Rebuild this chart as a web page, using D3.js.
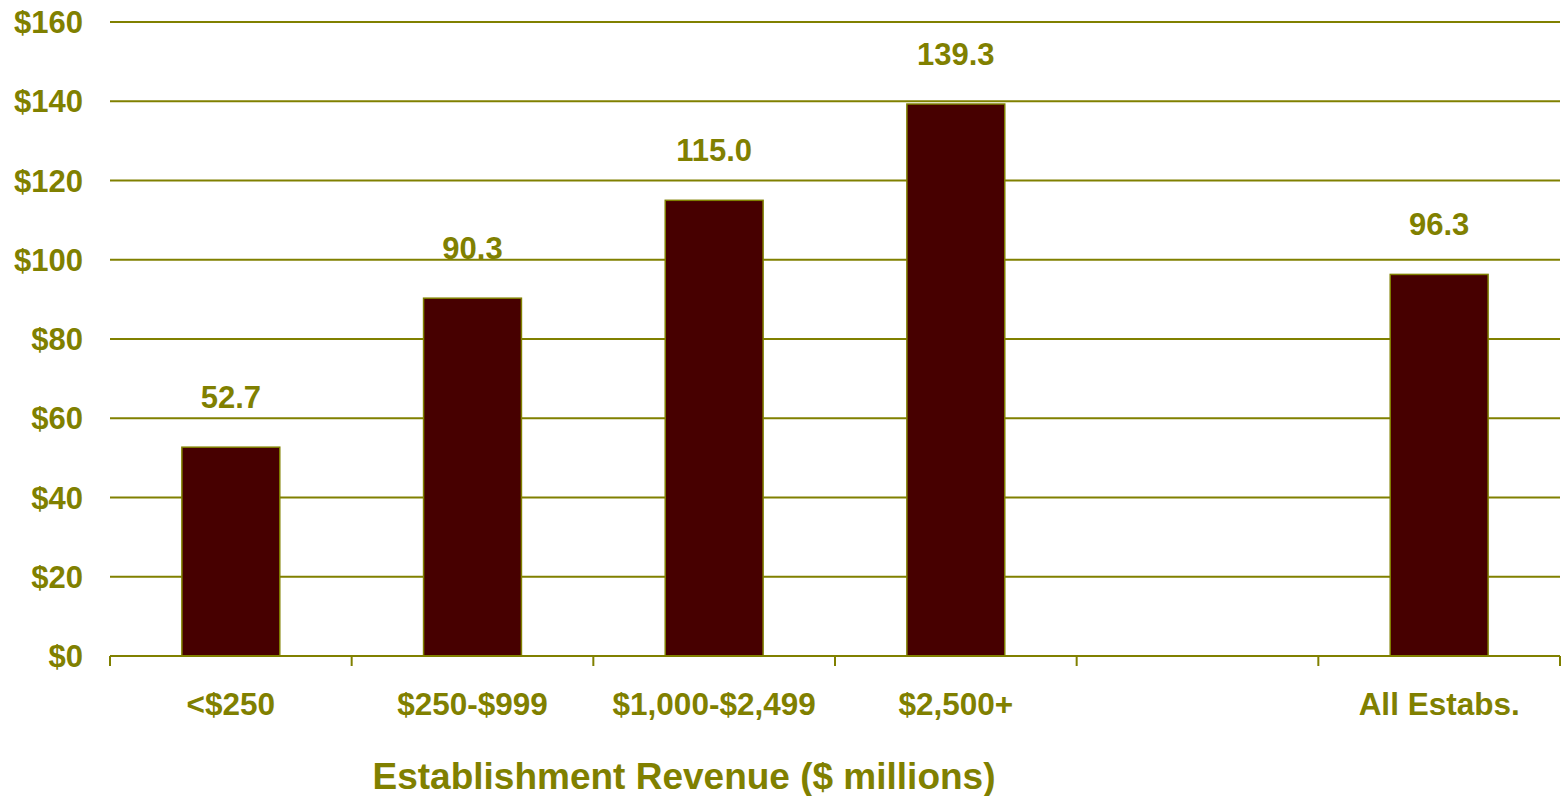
<!DOCTYPE html>
<html>
<head>
<meta charset="utf-8">
<script src="https://cdn.jsdelivr.net/npm/d3@7"></script>
<style>
  html, body { margin: 0; padding: 0; background: #fff; }
  svg { display: block; }
  text { font-family: "Liberation Sans", Arial, sans-serif; font-weight: bold; fill: #808000; }
</style>
</head>
<body>
<svg id="chart" width="1564" height="796"></svg>
<script>
const categories = ["<$250", "$250-$999", "$1,000-$2,499", "$2,500+", "", "All Estabs."];
const values = [52.7, 90.3, 115.0, 139.3, null, 96.3];
const valueLabels = ["52.7", "90.3", "115.0", "139.3", "", "96.3"];
const yTicks = [0, 20, 40, 60, 80, 100, 120, 140, 160];
const axisTitle = "Establishment Revenue ($ millions)";

const olive = "#808000";
const barFill = "#470000";

const svg = d3.select("#chart");
const plotLeft = 110, plotRight = 1560, plotTop = 22, plotBottom = 656;

const slots = categories.map((c, i) => "slot" + i);
const x = d3.scaleBand().domain(slots).range([plotLeft, plotRight]).padding(0);
const y = d3.scaleLinear().domain([0, 160]).range([plotBottom, plotTop]);
const barFrac = 0.405;

// gridlines
svg.append("g").selectAll("line").data(yTicks.filter(d => d > 0)).join("line")
  .attr("x1", plotLeft).attr("x2", plotRight)
  .attr("y1", d => y(d)).attr("y2", d => y(d))
  .attr("stroke", olive).attr("stroke-width", 2);

// y tick labels
svg.append("g").selectAll("text").data(yTicks).join("text")
  .attr("x", 83).attr("y", d => y(d)).attr("dy", "0.36em")
  .attr("text-anchor", "end").style("font-size", "31px")
  .text(d => "$" + d);

// bars
const data = categories.map((c, i) => ({ key: slots[i], cat: c, v: values[i], lbl: valueLabels[i] }));
const bw = x.bandwidth() * barFrac;
svg.append("g").selectAll("rect").data(data.filter(d => d.v != null)).join("rect")
  .attr("x", d => x(d.key) + (x.bandwidth() - bw) / 2)
  .attr("width", bw)
  .attr("y", d => y(d.v))
  .attr("height", d => y(0) - y(d.v))
  .attr("fill", barFill)
  .attr("stroke", olive).attr("stroke-width", 1.5);

// value labels
svg.append("g").selectAll("text").data(data.filter(d => d.v != null)).join("text")
  .attr("x", d => x(d.key) + x.bandwidth() / 2)
  .attr("y", d => y(d.v) - 39)
  .attr("text-anchor", "middle").style("font-size", "31px")
  .text(d => d.lbl);

// x axis line and ticks
svg.append("line").attr("x1", plotLeft).attr("x2", plotRight).attr("y1", plotBottom).attr("y2", plotBottom)
  .attr("stroke", olive).attr("stroke-width", 2);
const boundaries = slots.map(s => x(s)).concat([plotRight]);
svg.append("g").selectAll("line").data(boundaries).join("line")
  .attr("x1", d => d).attr("x2", d => d)
  .attr("y1", plotBottom).attr("y2", plotBottom + 10)
  .attr("stroke", olive).attr("stroke-width", 2);

// category labels
svg.append("g").selectAll("text").data(data).join("text")
  .attr("x", d => x(d.key) + x.bandwidth() / 2)
  .attr("y", 715)
  .attr("text-anchor", "middle").style("font-size", "31.5px")
  .text(d => d.cat);

// axis title
svg.append("text").attr("x", 684).attr("y", 789)
  .attr("text-anchor", "middle").style("font-size", "37px")
  .text(axisTitle);
</script>
</body>
</html>
